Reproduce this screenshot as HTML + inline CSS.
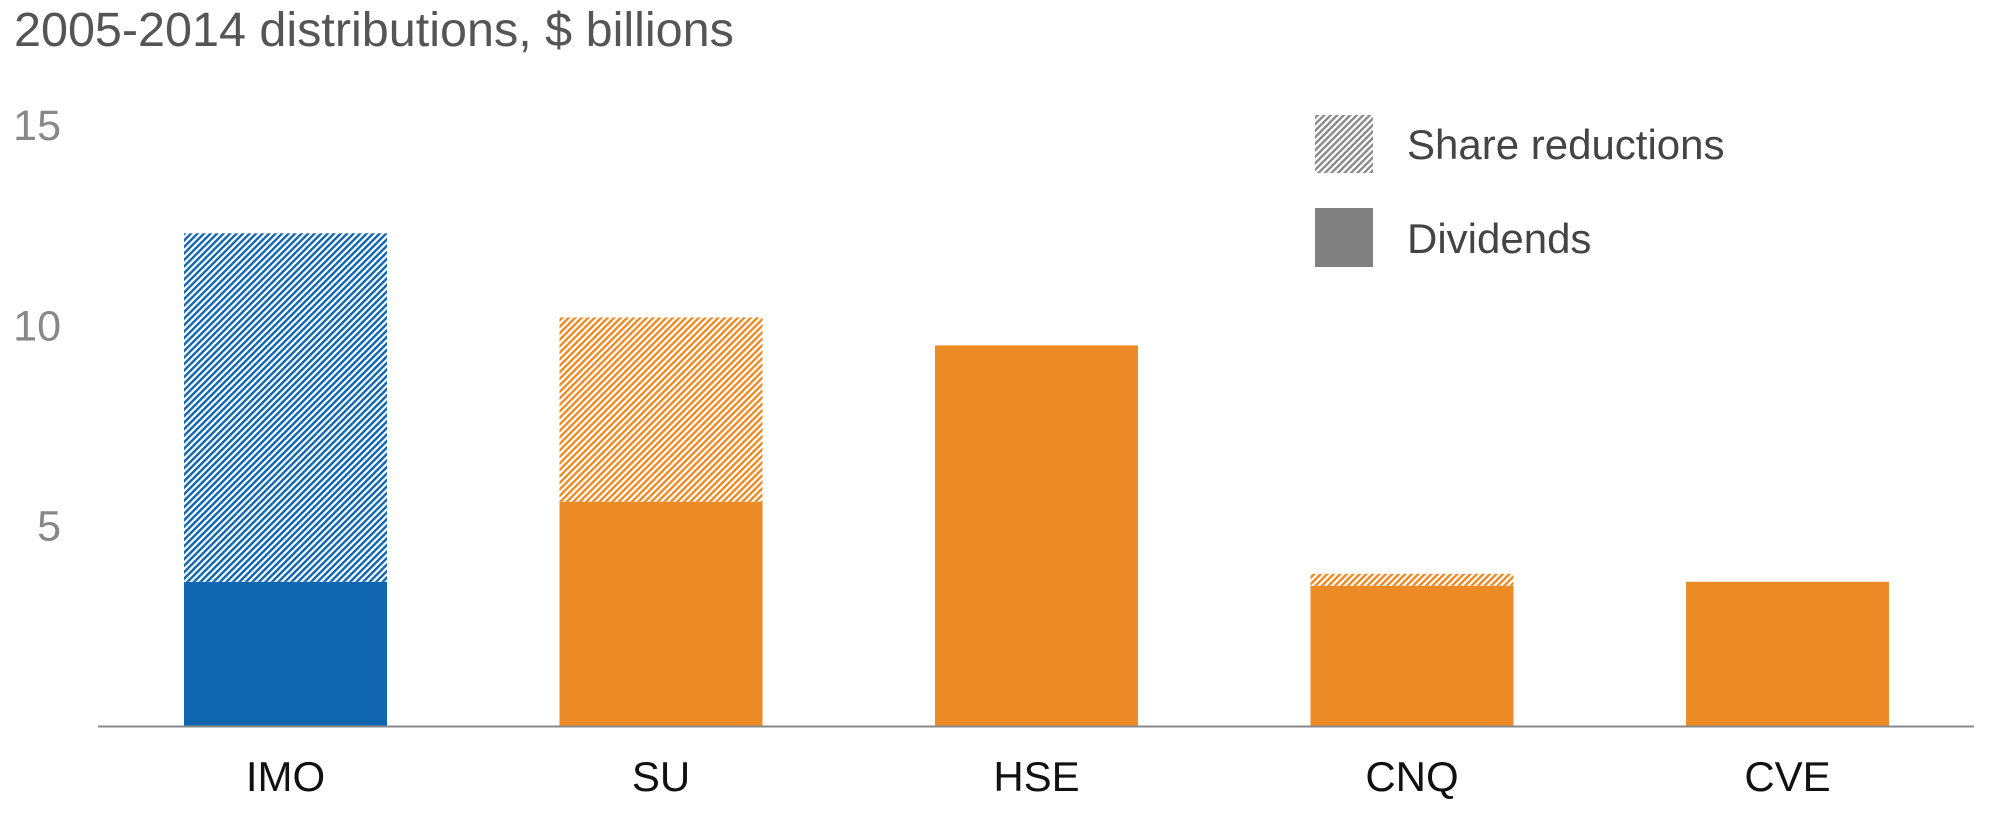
<!DOCTYPE html>
<html><head><meta charset="utf-8"><style>
html,body{margin:0;padding:0;background:#fff;}
svg{display:block;font-family:"Liberation Sans",Arial,sans-serif;}
</style></head><body>
<svg id="chart" width="1994" height="828" viewBox="0 0 1994 828">
<defs>
<pattern id="hatch-blue" width="4.6" height="4.6" patternUnits="userSpaceOnUse" patternTransform="rotate(45)"><rect width="4.6" height="4.6" fill="#fff"/><rect width="2.4" height="4.6" fill="#1166b0"/></pattern>
<pattern id="hatch-orange" width="4.6" height="4.6" patternUnits="userSpaceOnUse" patternTransform="rotate(45)"><rect width="4.6" height="4.6" fill="#fff"/><rect width="2.4" height="4.6" fill="#ec8a25"/></pattern>
<pattern id="hatch-gray" width="4.6" height="4.6" patternUnits="userSpaceOnUse" patternTransform="rotate(45)"><rect width="4.6" height="4.6" fill="#fff"/><rect width="2.4" height="4.6" fill="#8a8a8a"/></pattern>
</defs>
<text x="14" y="46" font-size="48.5" fill="#555">2005-2014 distributions, $ billions</text>
<g id="yticks"></g>
<g id="bars"></g>
<line x1="98" y1="726.5" x2="1974" y2="726.5" stroke="#888" stroke-width="2"/>
<g id="xlabels"></g>
<g>
<rect x="1315" y="115" width="58" height="58" fill="url(#hatch-gray)"/>
<text x="1407" y="159" font-size="42" fill="#444">Share reductions</text>
<rect x="1315" y="208" width="58" height="59" fill="#808080"/>
<text x="1407" y="253" font-size="42" fill="#444">Dividends</text>
</g>
</svg>
<script>
const categories = ["IMO","SU","HSE","CNQ","CVE"];
const dividends = [3.6, 5.6, 9.5, 3.5, 3.6];
const shareReductions = [8.7, 4.6, 0, 0.3, 0];
const yTicks = [5, 10, 15];
const NS = "http://www.w3.org/2000/svg";
const y0 = 726, pxPerUnit = 40.06;
function yScale(v){ return y0 - v * pxPerUnit; }
function xCenter(i){ return 285.5 + i * 375.5; }
const barW = 203;
const yt = document.getElementById('yticks');
yTicks.forEach(t => {
  const el = document.createElementNS(NS,'text');
  el.setAttribute('x', 61); el.setAttribute('y', yScale(t) + 15);
  el.setAttribute('text-anchor','end'); el.setAttribute('font-size','43'); el.setAttribute('fill','#888');
  el.textContent = t;
  
  
  yt.appendChild(el);
});
const bars = document.getElementById('bars');
const xl = document.getElementById('xlabels');
categories.forEach((c, i) => {
  const blue = c === "IMO";
  const solid = blue ? "#1166b0" : "#ec8a25";
  const hatch = blue ? "url(#hatch-blue)" : "url(#hatch-orange)";
  const x = xCenter(i) - barW/2;
  const d = document.createElementNS(NS,'rect');
  d.setAttribute('x', x); d.setAttribute('y', yScale(dividends[i]));
  d.setAttribute('width', barW); d.setAttribute('height', y0 - yScale(dividends[i]));
  d.setAttribute('fill', solid);
  
  
  bars.appendChild(d);
  if (shareReductions[i] > 0) {
    const s = document.createElementNS(NS,'rect');
    const top = yScale(dividends[i] + shareReductions[i]);
    s.setAttribute('x', x); s.setAttribute('y', top);
    s.setAttribute('width', barW); s.setAttribute('height', yScale(dividends[i]) - top);
    s.setAttribute('fill', hatch);
    
    
    bars.appendChild(s);
  }
  const t = document.createElementNS(NS,'text');
  t.setAttribute('x', xCenter(i)); t.setAttribute('y', 791);
  t.setAttribute('text-anchor','middle'); t.setAttribute('font-size','42'); t.setAttribute('fill','#111');
  t.textContent = c;
  
  
  xl.appendChild(t);
});
</script>
</body></html>
